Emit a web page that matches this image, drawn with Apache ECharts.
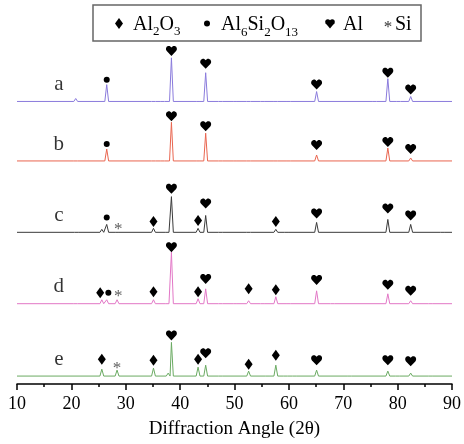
<!DOCTYPE html>
<html>
<head>
<meta charset="utf-8">
<script src="https://cdn.jsdelivr.net/npm/echarts@6/dist/echarts.min.js"></script>
<style>
  html, body { margin: 0; padding: 0; background: #fff; }
  #chart { width: 464px; height: 444px; }
</style>
</head>
<body>
<div id="chart"></div>
<script>
// sample names, top to bottom
const samples = ["a", "b", "c", "d", "e"];
const lineColors = ["#8a7bdc", "#e9654f", "#3a3a3a", "#e277c6", "#6aaa62"];
// vertical offset of each trace's baseline (stacked plot)
const offsets = [285, 225, 153, 81, 8];

// peaks: [2θ, height above baseline]
const peaksA = [[20.8, 3], [26.5, 17], [35.1, 2], [36.8, 1.5], [38.4, 44], [43.3, 2], [44.7, 29], [47.4, 2], [50.1, 1.5], [52.6, 1.5], [55.1, 1], [57.6, 1.5], [60.0, 1.5], [65.1, 10], [75.8, 1], [78.2, 23], [80.2, 1], [82.4, 5]];
const peaksB = [[20.8, 2], [26.5, 12], [35.1, 2], [36.8, 1.5], [38.4, 39], [43.3, 2], [44.7, 28], [47.4, 1.5], [50.1, 1], [52.6, 1], [57.6, 2], [60.0, 1.5], [65.1, 6], [78.2, 13], [82.4, 3]];
const peaksC = [[20.9, 1.5], [25.6, 3], [26.5, 8], [28.4, 2], [35.1, 4], [37.6, 2], [38.4, 36], [43.3, 4], [44.7, 17], [47.4, 1.5], [52.6, 1.5], [57.6, 3], [59.5, 1], [65.1, 10], [78.2, 13], [82.4, 8], [88.2, 1]];
const peaksD = [[20.8, 1.5], [25.6, 4], [26.5, 4], [28.4, 4], [35.1, 4], [37.6, 2], [38.4, 52], [43.3, 5], [44.7, 15], [47.4, 2], [50.1, 1], [52.6, 3], [55.1, 1], [57.6, 7], [60.0, 1], [65.1, 13], [68.0, 1], [78.2, 10], [82.4, 3], [86.0, 1]];
const peaksE = [[25.6, 7], [28.4, 6], [35.1, 8], [37.8, 3], [38.4, 34], [43.3, 9], [44.7, 11], [47.4, 2], [52.6, 5], [56.0, 1.5], [57.6, 11], [59.4, 1.5], [61.0, 1], [65.1, 6], [71.2, 1], [78.2, 5], [80.0, 1], [82.4, 3], [86.0, 1]];
const peaks = [peaksA, peaksB, peaksC, peaksD, peaksE];

// phase markers: [phase, 2θ, level above baseline]
const marksA = [["circle", 26.5, 22], ["heart", 38.4, 51], ["heart", 44.7, 38], ["heart", 65.1, 17], ["heart", 78.2, 29], ["heart", 82.4, 12]];
const marksB = [["circle", 26.5, 17], ["heart", 38.4, 45], ["heart", 44.7, 35], ["heart", 65.1, 16], ["heart", 78.2, 19], ["heart", 82.4, 12]];
const marksC = [["circle", 26.5, 15], ["star", 28.6, 7], ["diamond", 35.1, 11], ["heart", 38.4, 44], ["diamond", 43.3, 12], ["heart", 44.7, 29], ["diamond", 57.6, 11], ["heart", 65.1, 19], ["heart", 78.2, 24], ["heart", 82.4, 17]];
const marksD = [["diamond", 25.3, 11], ["circle", 26.8, 11], ["star", 28.6, 11], ["diamond", 35.1, 12], ["heart", 38.4, 57], ["diamond", 43.3, 12], ["heart", 44.7, 25], ["diamond", 52.6, 15], ["diamond", 57.6, 14], ["heart", 65.1, 24], ["heart", 78.2, 19], ["heart", 82.4, 13]];
const marksE = [["diamond", 25.6, 17], ["star", 28.4, 12], ["diamond", 35.1, 16], ["heart", 38.4, 41], ["diamond", 43.3, 17], ["heart", 44.7, 23], ["diamond", 52.6, 12], ["diamond", 57.6, 21], ["heart", 65.1, 16], ["heart", 78.2, 16], ["heart", 82.4, 15]];
const marks = [marksA, marksB, marksC, marksD, marksE];

const xTicks = [10, 20, 30, 40, 50, 60, 70, 80, 90];

const serif = "Liberation Serif";
const heartPath = "path://M12 22 L2.5 12 C-0.5 8.5 0.5 3 5 1.5 C8 0.7 10.5 2 12 4.5 C13.5 2 16 0.7 19 1.5 C23.5 3 24.5 8.5 21.5 12 Z";

// turn peak list into a polyline (thin triangular peaks on a flat baseline)
function trace(list, off) {
  const pts = [[xTicks[0], off]];
  list.forEach(([p, h]) => {
    pts.push([p - 0.35, off], [p, off + h], [p + 0.35, off]);
  });
  pts.push([xTicks[xTicks.length - 1], off]);
  return pts;
}

let series = [];
samples.forEach((s, i) => {
  series.push({
    type: "line",
    data: trace(peaks[i], offsets[i]),
    symbol: "none",
    lineStyle: { color: lineColors[i], width: 1 },
    silent: true,
    z: 2,
  });
});

const symbolStyle = {
  diamond: { symbol: "diamond", symbolSize: [8, 11] },
  circle: { symbol: "circle", symbolSize: 6 },
  heart: { symbol: heartPath, symbolSize: [11, 10] },
};
["diamond", "circle", "heart"].forEach((k) => {
  let d = [];
  marks.forEach((m, i) => {
    m.filter((r) => r[0] === k).forEach((r) => d.push([r[1], offsets[i] + r[2]]));
  });
  series.push({
    type: "scatter",
    data: d,
    symbol: symbolStyle[k].symbol,
    symbolSize: symbolStyle[k].symbolSize,
    itemStyle: { color: "#000", opacity: 1 },
    silent: true,
    z: 5,
  });
});
// Si asterisks as text
let starData = [];
marks.forEach((m, i) => {
  m.filter((r) => r[0] === "star").forEach((r) => starData.push([r[1], offsets[i] + r[2]]));
});
series.push({
  type: "scatter",
  data: starData,
  symbolSize: 0,
  label: {
    show: true,
    position: "inside",
    formatter: "*",
    fontFamily: serif,
    fontSize: 17,
    color: "#333",
    offset: [0, 4],
  },
  silent: true,
  z: 5,
});
// sample letters
series.push({
  type: "scatter",
  data: samples.map((s, i) => ({ value: [17.7, offsets[i] + 17], name: s })),
  symbolSize: 0,
  label: {
    show: true,
    position: "inside",
    formatter: (p) => p.name,
    fontFamily: serif,
    fontSize: 21,
    color: "#000",
  },
  silent: true,
  z: 5,
});

// legend text pieces: main text and subscripts placed one after another
function txt(x, y, s, size) {
  return { type: "text", z: 11, x: x, y: y, style: { text: s, font: size + "px " + serif, fill: "#000", verticalAlign: "middle" } };
}

const chart = echarts.init(document.getElementById("chart"));
chart.setOption({
  animation: false,
  grid: { left: 17, right: 9, top: 40, bottom: 57 },
  xAxis: {
    type: "value",
    min: 10,
    max: 90,
    interval: 10,
    axisLine: { show: true, lineStyle: { color: "#000", width: 1.5 } },
    axisTick: { show: true, inside: false, length: 6, lineStyle: { color: "#000", width: 1.5 } },
    minorTick: { show: true, splitNumber: 2, length: 3, lineStyle: { color: "#000", width: 1.5 } },
    splitLine: { show: false },
    axisLabel: { color: "#000", fontFamily: serif, fontSize: 18, margin: 11 },
    name: "Diffraction Angle (2\u03b8)",
    nameLocation: "middle",
    nameGap: 36,
    nameTextStyle: { color: "#000", fontFamily: serif, fontSize: 19 },
  },
  yAxis: {
    type: "value",
    min: 0,
    max: 347,
    show: false,
  },
  graphic: [
    { type: "rect", z: 10, shape: { x: 93, y: 5, width: 328, height: 36 }, style: { fill: "#fff", stroke: "#666", lineWidth: 1.5 } },
    { type: "polygon", z: 11, shape: { points: [[119, 18], [123, 23.5], [119, 29], [115, 23.5]] }, style: { fill: "#000" } },
    { type: "circle", z: 11, shape: { cx: 207, cy: 23.5, r: 3 }, style: { fill: "#000" } },
    { type: "circle", z: 11, shape: { cx: 327.8, cy: 21.8, r: 2.6 }, style: { fill: "#000" } },
    { type: "circle", z: 11, shape: { cx: 332.2, cy: 21.8, r: 2.6 }, style: { fill: "#000" } },
    { type: "polygon", z: 11, shape: { points: [[325.4, 23], [334.6, 23], [330, 28.5]] }, style: { fill: "#000" } },
    { type: "text", z: 11, x: 388, y: 28, style: { text: "*", font: "17px " + serif, fill: "#333", align: "center", verticalAlign: "middle" } },
    txt(133, 25, "Al", 20), txt(153, 32, "2", 13), txt(159.5, 25, "O", 20), txt(174, 32, "3", 13),
    txt(221, 25, "Al", 20), txt(241, 33, "6", 13), txt(247.5, 25, "Si", 20), txt(264.2, 33, "2", 13),
    txt(270.7, 25, "O", 20), txt(285.1, 33, "13", 13),
    txt(343, 25, "Al", 20),
    txt(395, 25, "Si", 20),
  ],
  series: series,
});
</script>
</body>
</html>
